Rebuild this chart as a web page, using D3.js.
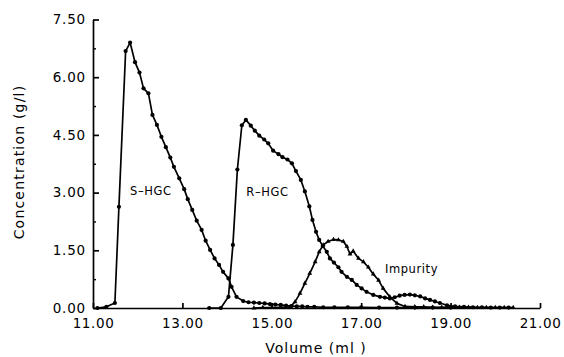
<!DOCTYPE html>
<html><head><meta charset="utf-8">
<script src="https://cdn.jsdelivr.net/npm/d3@7"></script>
<style>
html,body{margin:0;padding:0;background:#fff;}
svg{display:block;}
text{font-family:"DejaVu Sans",sans-serif;fill:#000;}
</style></head>
<body><svg id="c" width="564" height="357"></svg>
<script>
// ---- data ----
const xTicks = [11, 13, 15, 17, 19, 21];
const xTickLabels = ["11.00", "13.00", "15.00", "17.00", "19.00", "21.00"];
const yTicks = [0, 1.5, 3, 4.5, 6, 7.5];
const yTickLabels = ["0.00", "1.50", "3.00", "4.50", "6.00", "7.50"];
const yMinorTicks = [0.75, 2.25, 3.75, 5.25, 6.75];

const sVol = [11.10, 11.30, 11.49, 11.58, 11.73, 11.83, 11.94, 12.04, 12.13, 12.24, 12.33, 12.43, 12.53, 12.63, 12.73, 12.81, 12.93, 13.04, 13.12, 13.22, 13.32, 13.43, 13.52, 13.62, 13.72, 13.82, 13.91, 14.03, 14.10, 14.21, 14.36, 14.48, 14.60, 14.72, 14.84, 14.96, 15.08, 15.20, 15.32, 15.44, 15.56, 15.68, 15.80, 15.95, 16.15, 16.40, 16.70, 17.00, 17.40, 17.80, 18.20, 18.60, 19.00];
const sConc = [0.00, 0.03, 0.13, 2.63, 6.68, 6.90, 6.39, 6.12, 5.71, 5.58, 5.02, 4.76, 4.45, 4.18, 3.91, 3.67, 3.37, 3.09, 2.83, 2.55, 2.27, 2.03, 1.75, 1.51, 1.29, 1.12, 0.94, 0.77, 0.55, 0.29, 0.18, 0.15, 0.14, 0.13, 0.12, 0.10, 0.09, 0.08, 0.06, 0.05, 0.04, 0.04, 0.03, 0.03, 0.02, 0.02, 0.02, 0.02, 0.01, 0.01, 0.01, 0.01, 0.01];

const rVol = [13.60, 13.86, 14.03, 14.13, 14.23, 14.33, 14.42, 14.53, 14.62, 14.72, 14.83, 14.92, 15.03, 15.15, 15.24, 15.35, 15.45, 15.54, 15.65, 15.74, 15.84, 15.91, 15.99, 16.06, 16.14, 16.23, 16.30, 16.39, 16.49, 16.56, 16.68, 16.79, 16.90, 17.01, 17.12, 17.27, 17.42, 17.53, 17.64, 17.75, 17.86, 17.97, 18.09, 18.20, 18.32, 18.43, 18.54, 18.65, 18.76, 18.92, 19.10, 19.30, 19.50, 19.70, 19.90, 20.10, 20.30];
const rConc = [0.00, 0.00, 0.29, 1.64, 3.60, 4.75, 4.89, 4.74, 4.61, 4.48, 4.38, 4.28, 4.09, 4.00, 3.92, 3.86, 3.76, 3.56, 3.33, 3.03, 2.64, 2.29, 1.98, 1.77, 1.61, 1.46, 1.29, 1.18, 1.06, 0.94, 0.81, 0.73, 0.60, 0.51, 0.42, 0.34, 0.29, 0.27, 0.25, 0.28, 0.32, 0.34, 0.35, 0.33, 0.30, 0.25, 0.21, 0.17, 0.13, 0.07, 0.04, 0.03, 0.02, 0.02, 0.01, 0.01, 0.01];

const iVol = [14.60, 14.80, 15.00, 15.20, 15.41, 15.52, 15.63, 15.74, 15.85, 15.97, 16.06, 16.15, 16.26, 16.38, 16.49, 16.60, 16.68, 16.75, 16.82, 16.94, 17.05, 17.16, 17.27, 17.39, 17.49, 17.64, 17.80, 17.98, 18.20, 18.40, 18.60, 18.80, 19.00, 19.20, 19.40, 19.60, 19.80, 20.00, 20.20, 20.40];
const iConc = [0.00, 0.01, 0.01, 0.02, 0.03, 0.16, 0.38, 0.64, 0.90, 1.20, 1.46, 1.64, 1.73, 1.78, 1.77, 1.73, 1.60, 1.40, 1.48, 1.29, 1.20, 1.06, 0.88, 0.72, 0.51, 0.29, 0.12, 0.04, 0.03, 0.03, 0.02, 0.02, 0.02, 0.02, 0.02, 0.01, 0.01, 0.01, 0.01, 0.01];

const labels = [
  {text: "S–HGC", v: 11.83, c: 2.93},
  {text: "R–HGC", v: 14.43, c: 2.91},
  {text: "Impurity", v: 17.53, c: 0.91}
];

// ---- drawing ----
const svg = d3.select("#c");
const x = d3.scaleLinear().domain([11, 21]).range([93, 540]);
const y = d3.scaleLinear().domain([0, 7.5]).range([308, 19.5]);

const line = d3.line().x(d => x(d[0])).y(d => y(d[1]));

function series(vol, conc, marker) {
  const pts = vol.map((v, i) => [v, conc[i]]);
  svg.append("path").datum(pts).attr("d", line)
    .attr("fill", "none").attr("stroke", "#000").attr("stroke-width", 1.7)
    .attr("stroke-linejoin", "round");
  if (marker === "circle") {
    svg.append("g").selectAll("circle").data(pts).join("circle")
      .attr("cx", d => x(d[0])).attr("cy", d => y(d[1])).attr("r", 2.1).attr("fill", "#000");
  } else {
    const sym = d3.symbol().type(d3.symbolTriangle).size(10);
    svg.append("g").selectAll("path").data(pts).join("path")
      .attr("transform", d => `translate(${x(d[0])},${y(d[1])})`)
      .attr("d", sym).attr("fill", "#000");
  }
}
series(sVol, sConc, "circle");
series(rVol, rConc, "circle");
series(iVol, iConc, "tri");

// axes
const yAxis = d3.axisLeft(y).tickValues(yTicks).tickFormat((d, i) => yTickLabels[i])
  .tickSizeInner(-6).tickSizeOuter(0).tickPadding(7);
const gy = svg.append("g").attr("transform", "translate(93,0)").call(yAxis);
gy.selectAll("text").attr("font-size", 13.5).attr("font-family", "DejaVu Sans").style("letter-spacing", "0.8px");
gy.selectAll("line,path").attr("stroke", "#000").attr("stroke-width", 1.7);

const yMinor = d3.axisLeft(y).tickValues(yMinorTicks).tickFormat("").tickSizeInner(-3).tickSizeOuter(0);
const gym = svg.append("g").attr("transform", "translate(93,0)").call(yMinor);
gym.select(".domain").remove();
gym.selectAll("line").attr("stroke", "#000").attr("stroke-width", 1.4);

const xAxis = d3.axisBottom(x).tickValues(xTicks).tickFormat((d, i) => xTickLabels[i])
  .tickSizeInner(-5).tickSizeOuter(0).tickPadding(10);
const gx = svg.append("g").attr("transform", "translate(0,308)").call(xAxis);
gx.selectAll("text").attr("font-size", 13.5).attr("font-family", "DejaVu Sans").style("letter-spacing", "0.6px");
gx.selectAll("line,path").attr("stroke", "#000").attr("stroke-width", 1.7);

// axis titles
svg.append("text").attr("x", 316).attr("y", 353).attr("text-anchor", "middle")
  .attr("font-size", 14).style("letter-spacing", "1px").text("Volume (ml )");
svg.append("text").attr("transform", "translate(24,162) rotate(-90)").attr("text-anchor", "middle")
  .attr("font-size", 14).style("letter-spacing", "1.2px").text("Concentration (g/l)");

// annotations
svg.append("g").selectAll("text").data(labels).join("text")
  .attr("x", d => x(d.v)).attr("y", d => y(d.c))
  .attr("font-size", 11.5).style("letter-spacing", "0.6px").text(d => d.text);
</script>
</body></html>
